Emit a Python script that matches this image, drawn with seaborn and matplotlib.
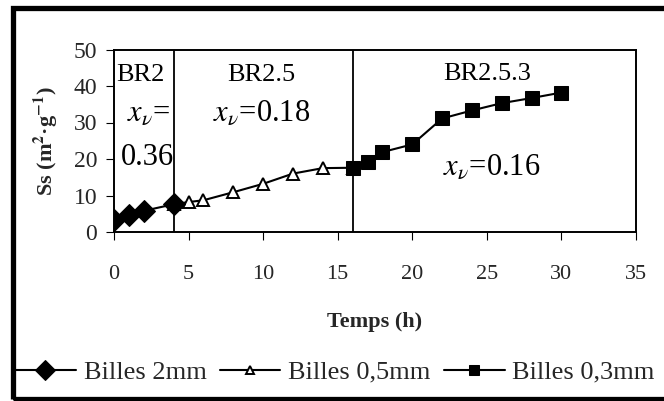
import matplotlib
matplotlib.use("Agg")
import matplotlib.pyplot as plt
import seaborn as sns
from matplotlib.patches import Rectangle

# Billes 2mm
t_2mm = [0, 1, 2, 4]
ss_2mm = [3.2, 4.6, 5.8, 7.6]
# Billes 0,5mm (joins the previous and next stage)
t_05mm = [4, 5, 6, 8, 10, 12, 14, 16]
ss_05mm = [7.6, 8.2, 8.7, 10.9, 13.2, 16.0, 17.5, 17.6]
# Billes 0,3mm
t_03mm = [16, 17, 18, 20, 22, 24, 26, 28, 30]
ss_03mm = [17.6, 19.2, 21.9, 24.0, 31.1, 33.3, 35.3, 36.7, 38.2]

stage_limits = [4, 16]
stage_names = ["BR2", "BR2.5", "BR2.5.3"]
x_ticks = [0, 5, 10, 15, 20, 25, 30, 35]
y_ticks = [0, 10, 20, 30, 40, 50]

sns.set_style("white")
plt.rcParams['font.family'] = ['Liberation Serif', 'DejaVu Serif']
plt.rcParams['mathtext.fontset'] = 'stix'

fig = plt.figure(figsize=(6.64, 4.01), dpi=100)
ax = fig.add_axes([114 / 664, 1 - 232 / 401, (636 - 114) / 664, (232 - 49.5) / 401])

sns.lineplot(x=t_05mm, y=ss_05mm, ax=ax, color="black", lw=1.5, marker="^",
             markersize=9, markerfacecolor="white", markeredgecolor="black",
             markeredgewidth=1.4, label="Billes 0,5mm")
sns.lineplot(x=t_2mm, y=ss_2mm, ax=ax, color="black", lw=1.5, marker="D",
             markersize=11, markeredgecolor="black", label="Billes 2mm")
sns.lineplot(x=t_03mm, y=ss_03mm, ax=ax, color="black", lw=1.5, marker="s",
             markersize=9.5, markeredgecolor="black", label="Billes 0,3mm")

for xv in stage_limits:
    ax.axvline(xv, color="black", lw=1.3)

ax.set_xlim(0, 35)
ax.set_ylim(0, 50)
ax.set_xticks(x_ticks)
ax.set_yticks(y_ticks)
ax.tick_params(axis="x", labelsize=16, pad=18, length=6, direction="out",
               bottom=True, color="black")
ax.tick_params(axis="y", labelsize=17, pad=6, length=6, direction="out",
               left=True, color="black")
for s in ax.spines.values():
    s.set_color("black")
    s.set_linewidth(1.4)

ax.set_xlabel("Temps (h)", fontsize=16, fontweight="bold", labelpad=20)
ax.set_ylabel("Ss (m$^{\\mathbf{2}}$·g$^{\\mathbf{-1}}$)", fontsize=16,
              fontweight="bold", labelpad=10)

tk = dict(fontsize=19, ha="center", va="center", color="black")
ax.text(1.75, 43, stage_names[0], **tk)
ax.text(9.9, 43, stage_names[1], **tk)
ax.text(25.0, 43.4, stage_names[2], **tk)
mk = dict(fontsize=22, ha="center", va="center", color="black")
ax.text(2.3, 32.5, r"$x_\nu$=", **mk)
ax.text(2.25, 20.5, "0.36", **mk)
ax.text(9.9, 32.5, r"$x_\nu$=0.18", **mk)
ax.text(25.3, 17.8, r"$x_\nu$=0.16", **mk)

handles, labels = ax.get_legend_handles_labels()
order = [labels.index(n) for n in ["Billes 2mm", "Billes 0,5mm", "Billes 0,3mm"]]
leg = ax.legend([handles[i] for i in order], [labels[i] for i in order], ncol=3,
                loc="center left", bbox_to_anchor=(15 / 664, 1 - 372 / 401),
                bbox_transform=fig.transFigure, frameon=False, fontsize=19,
                handlelength=2.3, columnspacing=0.5, handletextpad=0.3,
                borderaxespad=0, borderpad=0)
for h, ms in zip(leg.legend_handles, [10, 5.5, 7]):
    h.set_markersize(ms)

# thick black frame round the picture
frame = Rectangle((12.5 / 664, 1 - 398.5 / 401), 1.2, (398.5 - 7.5) / 401,
                  transform=fig.transFigure, fill=False,
                  edgecolor="black", lw=3.8, zorder=10)
fig.patches.append(frame)

fig.savefig("out.png", dpi=100)
